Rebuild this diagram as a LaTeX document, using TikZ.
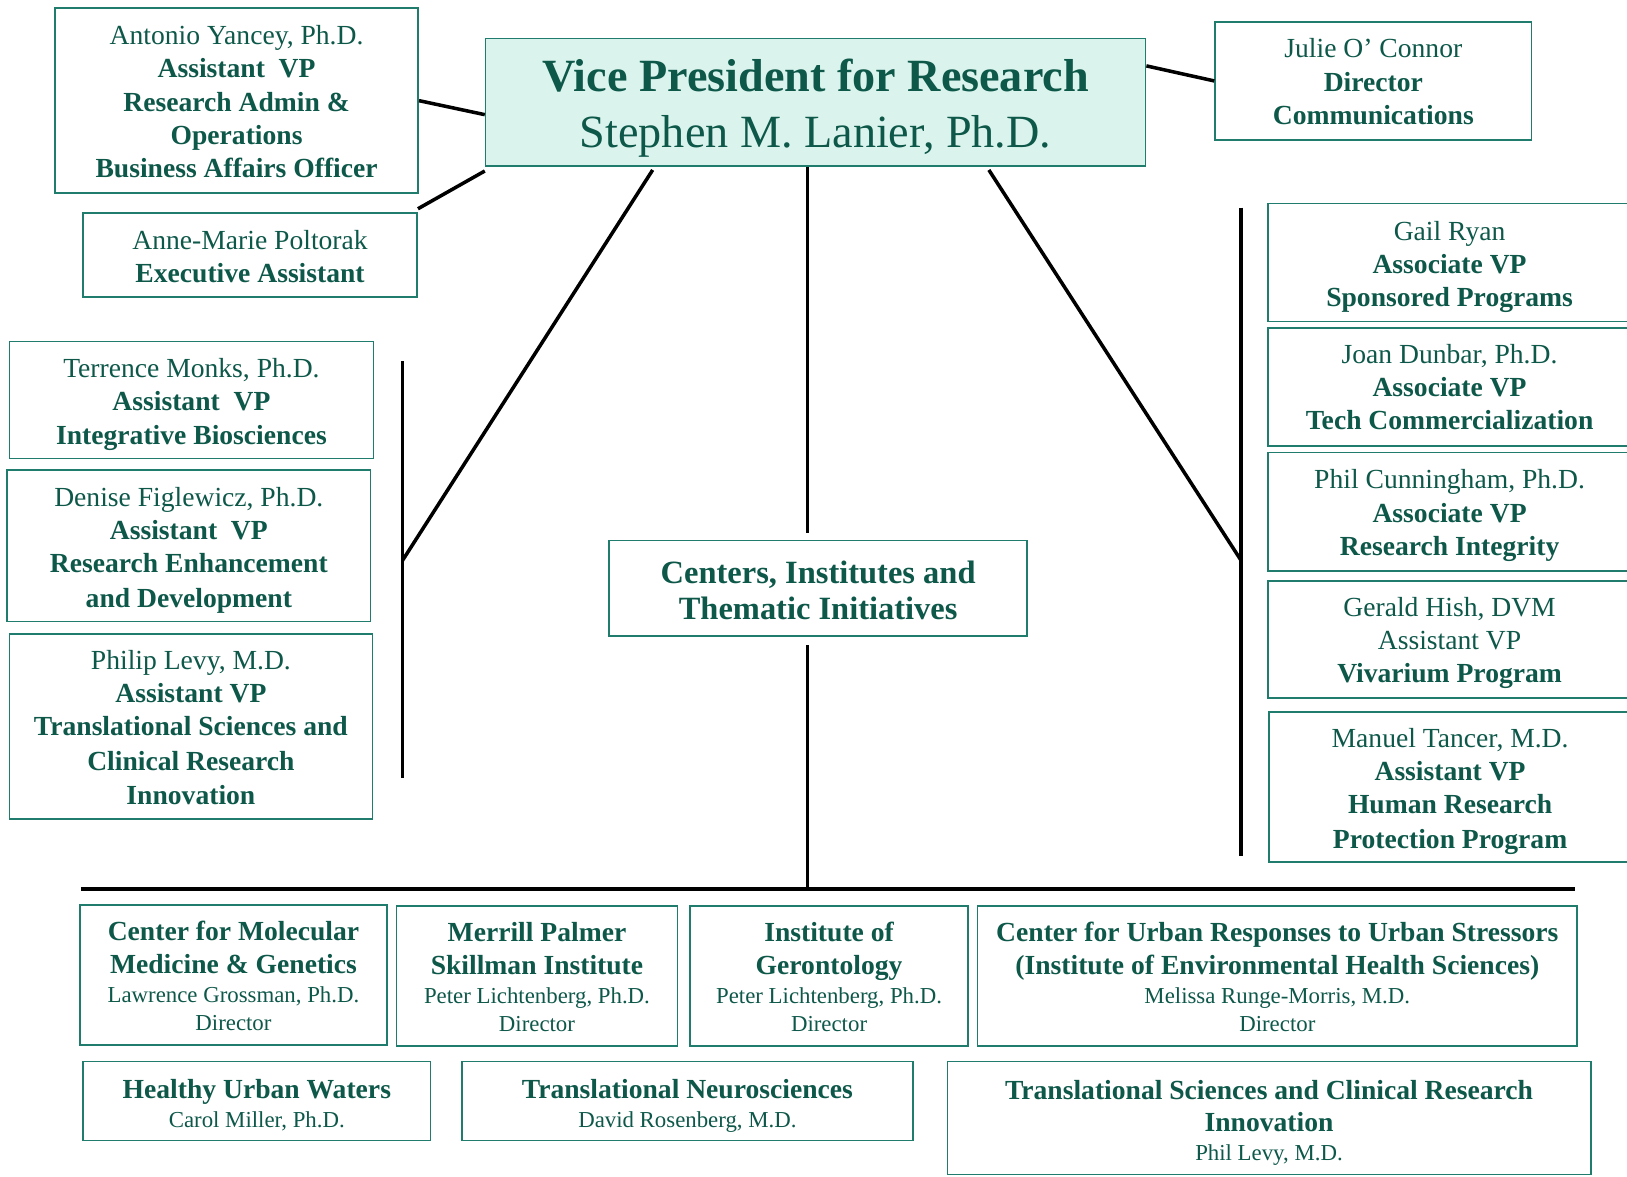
\documentclass[tikz,border=0pt]{standalone}
\usepackage{fontspec}
\setmainfont{Liberation Serif}
\usetikzlibrary{calc}
\definecolor{txt}{RGB}{14,88,74}
\definecolor{brd}{RGB}{32,124,108}
\definecolor{vpfill}{RGB}{218,244,237}
\newcommand{\tx}[2]{\raisebox{-#1pt}[\height][\depth]{\begin{tabular}{@{}c@{}}#2\end{tabular}}}
\newcommand{\bl}[1]{{\fontsize{26.6}{32}\selectfont\bfseries #1}}
\begin{document}
\begin{tikzpicture}[x=1pt,y=-1pt,
  box/.style={draw=brd, line width=1.6pt, text=txt, inner sep=0pt},
  pbox/.style={box, font=\fontsize{26.6}{32}\selectfont},
  cbox/.style={box, font=\fontsize{22}{27}\selectfont},
  conn/.style={line width=3.4pt, black}]
\clip (0,0) rectangle (1568,1134);
\fill[white] (0,0) rectangle (1568,1134);
% top
\node[box, fill=vpfill, minimum width=636pt, minimum height=123pt,
  font=\fontsize{44.5}{54}\selectfont] (vp) at (786,98.5)
  {\tx{6}{\textbf{Vice President for Research}\\Stephen M. Lanier, Ph.D.}};
\node[pbox, minimum width=350pt, minimum height=178pt] (ay) at (228,97)
  {\tx{3.7}{Antonio Yancey, Ph.D.\\\textbf{Assistant\ \ VP}\\\textbf{Research Admin \&}\\\textbf{Operations}\\\textbf{Business Affairs Officer}}};
\node[pbox, minimum width=322pt, minimum height=81pt] (am) at (241,245.5)
  {\tx{4.2}{Anne-Marie Poltorak\\\textbf{Executive Assistant}}};
\node[pbox, minimum width=305pt, minimum height=114pt] (jo) at (1323.5,78)
  {\tx{3.4}{Julie O’ Connor\\\textbf{Director}\\\textbf{Communications}}};
% left column
\node[pbox, minimum width=351pt, minimum height=113pt] (tm) at (184.5,385.5)
  {\tx{4.1}{Terrence Monks, Ph.D.\\\textbf{Assistant\ \ VP}\\\textbf{Integrative Biosciences}}};
\node[pbox, minimum width=350pt, minimum height=146pt] (df) at (182,526)
  {\tx{4.3}{Denise Figlewicz, Ph.D.\\\textbf{Assistant\ \ VP}\\\textbf{Research Enhancement}\\[2pt]\textbf{and Development}}};
\node[pbox, minimum width=350pt, minimum height=178pt] (pl) at (184,700)
  {\tx{3.5}{Philip Levy, M.D.\\\textbf{Assistant VP}\\\textbf{Translational Sciences and}\\[2pt]\textbf{Clinical Research}\\\textbf{Innovation}}};
% center
\node[box, minimum width=403pt, minimum height=92pt,
  font=\fontsize{31.3}{35}\selectfont\bfseries] (cti) at (788.5,567)
  {\tx{5.6}{Centers, Institutes and\\Thematic Initiatives}};
% right column
\node[pbox, minimum width=350pt, minimum height=114pt] (gr) at (1397,253)
  {\tx{4.1}{Gail Ryan\\\textbf{Associate VP}\\\textbf{Sponsored Programs}}};
\node[pbox, minimum width=350pt, minimum height=114pt] (jd) at (1397,373)
  {\tx{3}{Joan Dunbar, Ph.D.\\\textbf{Associate VP}\\\textbf{Tech Commercialization}}};
\node[pbox, minimum width=350pt, minimum height=114pt] (pc) at (1397,493)
  {\tx{3.8}{Phil Cunningham, Ph.D.\\\textbf{Associate VP}\\\textbf{Research Integrity}}};
\node[pbox, minimum width=350pt, minimum height=113pt] (gh) at (1397,616.5)
  {\tx{3.1}{Gerald Hish, DVM\\Assistant VP\\\textbf{Vivarium Program}}};
\node[pbox, minimum width=349pt, minimum height=145pt] (mt) at (1397.5,758.5)
  {\tx{4.1}{Manuel Tancer, M.D.\\\textbf{Assistant VP}\\\textbf{Human Research}\\[2pt]\textbf{Protection Program}}};
% bottom row 1
\node[cbox, minimum width=296pt, minimum height=135pt] (mm) at (225,939.5)
  {\tx{5.1}{\bl{Center for Molecular}\\[5pt]\bl{Medicine \& Genetics}\\[1pt]Lawrence Grossman, Ph.D.\\Director}};
\node[cbox, minimum width=271pt, minimum height=135pt] (mp) at (517.5,940.5)
  {\tx{5.1}{\bl{Merrill Palmer}\\[5pt]\bl{Skillman Institute}\\[1pt]Peter Lichtenberg, Ph.D.\\Director}};
\node[cbox, minimum width=268pt, minimum height=135pt] (ig) at (799,940.5)
  {\tx{5.1}{\bl{Institute of}\\[5pt]\bl{Gerontology}\\[1pt]Peter Lichtenberg, Ph.D.\\Director}};
\node[cbox, minimum width=578pt, minimum height=135pt] (cu) at (1231,940.5)
  {\tx{5.1}{\bl{Center for Urban Responses to Urban Stressors}\\[5pt]\bl{(Institute of Environmental Health Sciences)}\\[1pt]Melissa Runge-Morris, M.D.\\Director}};
% bottom row 2
\node[cbox, minimum width=335pt, minimum height=76pt] (hw) at (247.5,1061)
  {\tx{6}{\bl{Healthy Urban Waters}\\[1pt]Carol Miller, Ph.D.}};
\node[cbox, minimum width=435pt, minimum height=76pt] (tn) at (662.5,1061)
  {\tx{6.2}{\bl{Translational Neurosciences}\\[1pt]David Rosenberg, M.D.}};
\node[cbox, minimum width=620pt, minimum height=109pt] (ts) at (1223,1077.5)
  {\tx{5.9}{\bl{Translational Sciences and Clinical Research}\\[4pt]\bl{Innovation}\\[1pt]Phil Levy, M.D.}};
% coordinates
\coordinate (lt) at (388,348);
\coordinate (lm) at (388,540);
\coordinate (lb) at (388,750);
\coordinate (rt) at (1196,200);
\coordinate (rm) at (1196,540);
\coordinate (rb) at (1196,825);
\coordinate (c1) at (778,514);
\coordinate (c2) at (778,622);
\coordinate (hub) at (778,857);
\coordinate (hl) at (78,857);
\coordinate (hr) at (1518,857);
% connectors
\draw[conn] (ay.east) -- ($(vp.west)+(0,12)$);
\draw[conn] ($(am.north east)+(0,-3)$) -- ($(vp.south west)+(0,4)$);
\draw[conn] ($(vp.east)+(0,-35)$) -- (jo.west);
\draw[conn] ($(vp.south)+(-157,3)$) -- (lm);
\draw[conn] (lt) -- (lb);
\draw[conn] ($(vp.south)+(167,3)$) -- (rm);
\draw[conn] (rt) -- (rb);
\draw[conn] ($(vp.south)+(-8,0)$) -- (c1);
\draw[conn] (c2) -- (hub);
\draw[conn, line width=4pt] (hl) -- (hr);
\end{tikzpicture}
\end{document}
